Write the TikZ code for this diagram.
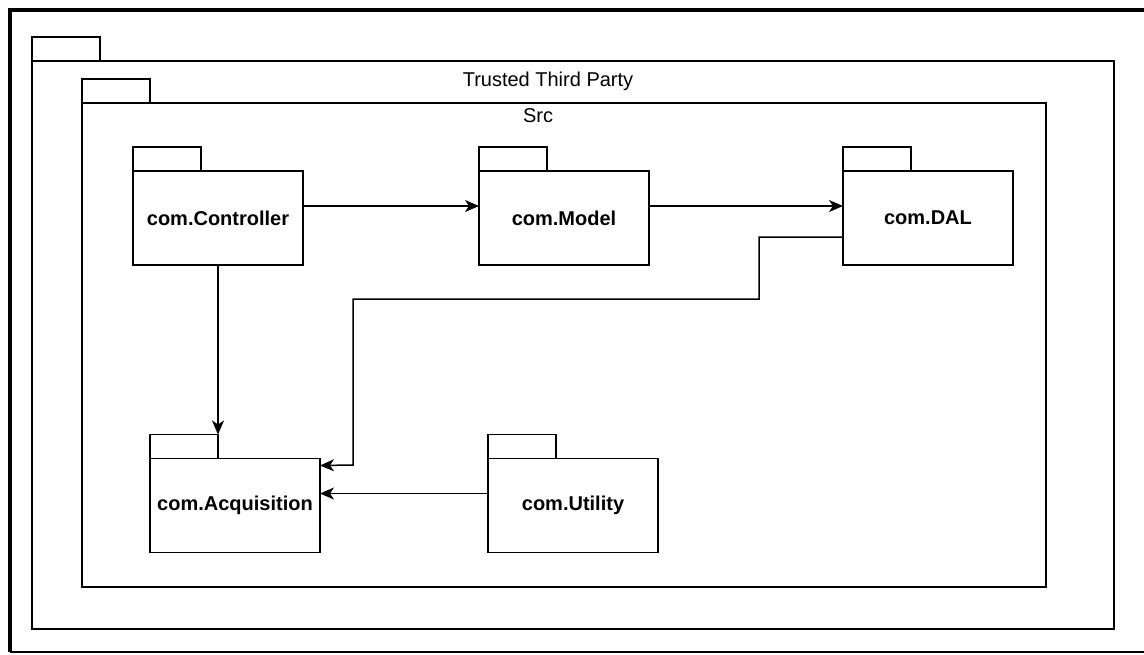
\documentclass[tikz,border=0pt]{standalone}
\usepackage{fontspec}
\setmainfont{Liberation Sans}
\usetikzlibrary{positioning,arrows.meta}
\begin{document}
\begin{tikzpicture}[x=1pt, y=-1pt, line width=1.5pt,
    pkg/.style = {draw, rectangle, inner sep=0pt, outer sep=0pt, minimum width=170pt, minimum height=94pt, font=\fontsize{20}{24}\selectfont\bfseries},
    tab/.style = {draw, rectangle, inner sep=0pt, outer sep=0pt, minimum width=68pt, minimum height=24pt, anchor=south west},
    arr/.style = {-{Stealth[length=14pt,width=12pt,inset=4pt]}}]
    \useasboundingbox (0,0) rectangle (1144,654);
    % frame
    \draw[line width=4pt] (1144,10) -- (10,10) -- (10,652);
    \draw[line width=1.5pt] (10,652) -- (1144,652);
    % Trusted Third Party
    \draw (32,61) rectangle (1114,629);
    \node[tab] (ttpt) at (32,61) {};
    \node[font=\fontsize{20}{24}\selectfont] (ttp) at (548,81) {Trusted Third Party};
    % Src
    \draw (82,103) rectangle (1046,587);
    \node[tab] (srct) at (82,103) {};
    \node[font=\fontsize{20}{24}\selectfont] (src) at (538,116) {Src};
    % packages
    \node[pkg] (ctrl) at (218,218) {com.Controller};
    \node[pkg] (model) [right=176pt of ctrl] {com.Model};
    \node[pkg] (dal) [right=194pt of model] {com.DAL};
    \node[pkg] (acq) at (235,505.5) {com.Acquisition};
    \node[pkg] (util) [right=168pt of acq] {com.Utility};
    \foreach \p in {ctrl,model,dal,acq,util}
        \node[tab] (\p t) at (\p.north west) {};
    % dependencies
    \draw[arr] ([yshift=12pt]ctrl.east) -- ([yshift=12pt]model.west);
    \draw[arr] ([yshift=12pt]model.east) -- ([yshift=12pt]dal.west);
    \draw[arr] (ctrl.south) -- (ctrl.south |- acqt.north);
    \draw[arr] ([yshift=-19pt]dal.west) -| (759,299) -| (353,465) -- ([yshift=-7pt]acq.north east);
    \draw[arr] ([yshift=12pt]util.west) -- ([yshift=12pt]acq.east);
\end{tikzpicture}
\end{document}
